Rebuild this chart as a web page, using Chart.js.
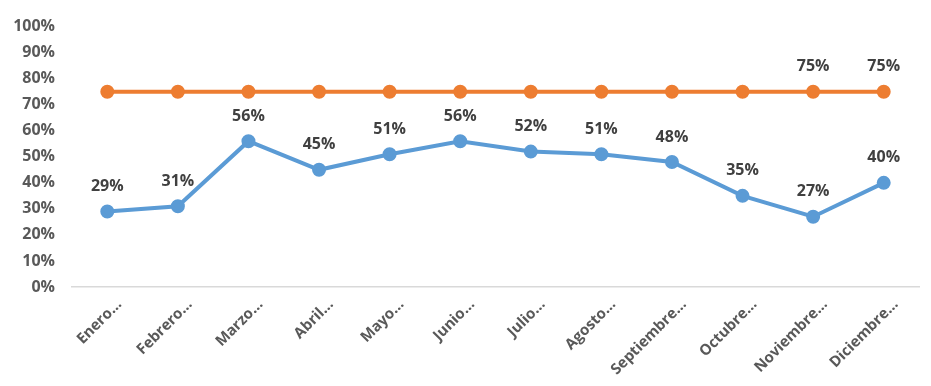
<!DOCTYPE html>
<html><head><meta charset="utf-8">
<script src="https://cdn.jsdelivr.net/npm/chart.js@4"></script>
<style>html,body{margin:0;padding:0;background:#fff}#w{width:931px;height:386px}</style>
</head><body><div id="w"><canvas id="c"></canvas></div>
<script>
const categories = ["Enero…","Febrero…","Marzo…","Abril…","Mayo…","Junio…","Julio…","Agosto…","Septiembre…","Octubre…","Noviembre…","Diciembre…"];
const actual = [29,31,56,45,51,56,52,51,48,35,27,40];
const meta = [75,75,75,75,75,75,75,75,75,75,75,75];
const metaLabeled = [false,false,false,false,false,false,false,false,false,false,true,true];
const yTicks = [0,10,20,30,40,50,60,70,80,90,100];

const labelPlugin = {
  id:'lbl',
  afterDraw(chart){
    const ctx = chart.ctx;
    ctx.save();
    // x category labels, rotated 45°
    const xs = chart.scales.x;
    ctx.font = 'bold 15px "Open Sans", sans-serif';
    ctx.fillStyle = '#595959';
    ctx.textAlign = 'right';
    ctx.textBaseline = 'middle';
    categories.forEach((c, i) => {
      const x = xs.getPixelForTick(i);
      ctx.save();
      ctx.translate(x + 12, chart.chartArea.bottom + 15);
      ctx.rotate(-Math.PI/4);
      ctx.fillText(c, 0, 0);
      ctx.restore();
    });
    // data labels
    ctx.font = 'bold 16px "Open Sans", sans-serif';
    ctx.fillStyle = '#404040';
    ctx.textAlign = 'center';
    ctx.textBaseline = 'middle';
    chart.data.datasets.forEach((ds, di) => {
      const m = chart.getDatasetMeta(di);
      m.data.forEach((pt, i) => {
        if (ds.showLabel && !ds.showLabel[i]) return;
        ctx.fillText(ds.data[i] + '%', pt.x, pt.y - 25);
      });
    });
    ctx.restore();
  }
};

new Chart(document.getElementById('c'), {
  type:'line',
  data:{
    labels:categories,
    datasets:[
      {data:actual, borderColor:'#5B9BD5', backgroundColor:'#5B9BD5', borderWidth:4, pointRadius:5, pointHoverRadius:5, tension:0},
      {data:meta, showLabel:metaLabeled, borderColor:'#ED7D31', backgroundColor:'#ED7D31', borderWidth:4, pointRadius:5, pointHoverRadius:5, tension:0}
    ]
  },
  options:{
    responsive:true, maintainAspectRatio:false, animation:false,
    layout:{padding:{top:13,right:12,left:0,bottom:0}},
    plugins:{legend:{display:false}, tooltip:{enabled:false}},
    scales:{
      x:{
        offset:true,
        grid:{display:false, drawTicks:false},
        border:{display:true, color:'#D9D9D9', width:1.5},
        ticks:{display:false},
        afterFit(s){ s.height = 99; }
      },
      y:{
        min:0, max:100,
        grid:{display:false, drawTicks:false},
        border:{display:false},
        afterBuildTicks(s){ s.ticks = yTicks.map(v=>({value:v})); },
        ticks:{color:'#595959', font:{family:'"Open Sans", sans-serif', size:16, weight:'bold'}, padding:17, callback:v=>v+'%'},
        afterFit(s){ s.width = 72; }
      }
    }
  },
  plugins:[labelPlugin]
});
</script></body></html>
